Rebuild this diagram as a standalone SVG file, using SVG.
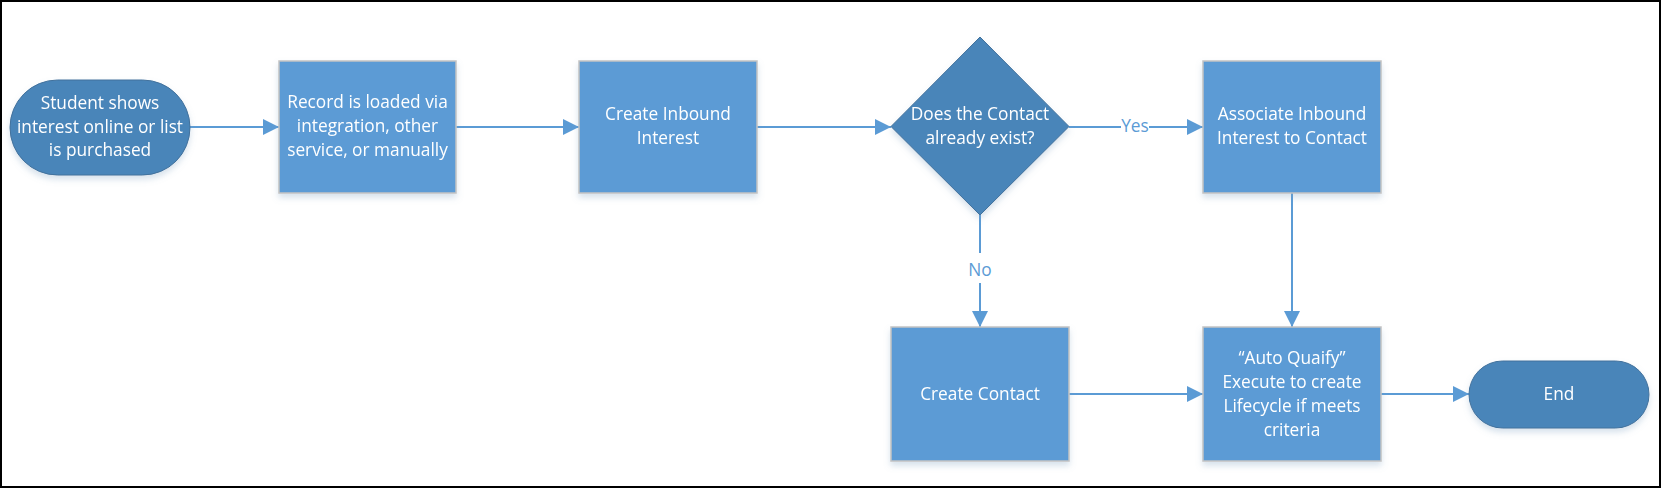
<svg xmlns="http://www.w3.org/2000/svg" width="1662" height="488" viewBox="0 0 1662 488">
  <style>
    .proc { fill: #5B9BD5; stroke: #C3C3C3; stroke-width: 1.5; }
    .term { fill: #4A85B9; stroke: #41719C; stroke-width: 1; }
    .lbl { font-family: "Open Sans", "Noto Sans", sans-serif; font-size: 17.3px; fill: #FFFFFF; text-anchor: middle; }
    .elbl { font-family: "Open Sans", "Noto Sans", sans-serif; font-size: 17.3px; fill: #5B9BD5; text-anchor: middle; }
    .conn { stroke: #5B9BD5; stroke-width: 2; fill: none; marker-end: url(#arrow); }
    .plain { stroke: #5B9BD5; stroke-width: 2; fill: none; }
  </style>
  <defs>
    <marker id="arrow" markerUnits="userSpaceOnUse" markerWidth="16" markerHeight="16" refX="16" refY="8" orient="auto">
      <path d="M0,0 L16,8 L0,16 Z" fill="#5B9BD5"/>
    </marker>
    <filter id="shadow" x="-10%" y="-10%" width="120%" height="130%">
      <feDropShadow dx="0" dy="4" stdDeviation="3" flood-color="#7A9CC0" flood-opacity="0.3"/>
    </filter>
  </defs>

  <rect x="1" y="1" width="1659" height="486" fill="#FFFFFF" stroke="#000000" stroke-width="2"/>

  <g id="connectors">
    <line class="conn" x1="190" y1="127" x2="279" y2="127"/>
    <line class="conn" x1="456" y1="127" x2="579" y2="127"/>
    <line class="conn" x1="757" y1="127" x2="891" y2="127"/>
    <line class="plain" x1="1069" y1="127" x2="1121" y2="127"/>
    <line class="conn" x1="1149" y1="127" x2="1203" y2="127"/>
    <text class="elbl" x="1135" y="132">Yes</text>
    <line class="plain" x1="980" y1="215" x2="980" y2="253"/>
    <line class="conn" x1="980" y1="283" x2="980" y2="327"/>
    <text class="elbl" x="980" y="276">No</text>
    <line class="conn" x1="1292" y1="193" x2="1292" y2="327"/>
    <line class="conn" x1="1069" y1="394" x2="1203" y2="394"/>
    <line class="conn" x1="1381" y1="394" x2="1469" y2="394"/>
  </g>

  <g id="start" filter="url(#shadow)">
    <rect class="term" x="10" y="80" width="180" height="95" rx="47.5" ry="47.5"/>
    <text class="lbl" x="100"><tspan x="100" y="109">Student shows</tspan><tspan x="100" y="133">interest online or list</tspan><tspan x="100" y="156">is purchased</tspan></text>
  </g>

  <g id="record" filter="url(#shadow)">
    <rect class="proc" x="279" y="61" width="177" height="132"/>
    <text class="lbl" x="367.5"><tspan x="367.5" y="108">Record is loaded via</tspan><tspan x="367.5" y="132">integration, other</tspan><tspan x="367.5" y="156">service, or manually</tspan></text>
  </g>

  <g id="create-inbound" filter="url(#shadow)">
    <rect class="proc" x="579" y="61" width="178" height="132"/>
    <text class="lbl" x="668"><tspan x="668" y="120">Create Inbound</tspan><tspan x="668" y="144">Interest</tspan></text>
  </g>

  <g id="decision" filter="url(#shadow)">
    <polygon class="term" points="980,37 1069,126.5 980,215 891,126.5"/>
    <text class="lbl" x="980"><tspan x="980" y="120">Does the Contact</tspan><tspan x="980" y="144">already exist?</tspan></text>
  </g>

  <g id="associate" filter="url(#shadow)">
    <rect class="proc" x="1203" y="61" width="178" height="132"/>
    <text class="lbl" x="1292"><tspan x="1292" y="120">Associate Inbound</tspan><tspan x="1292" y="144">Interest to Contact</tspan></text>
  </g>

  <g id="create-contact" filter="url(#shadow)">
    <rect class="proc" x="891" y="327" width="178" height="134"/>
    <text class="lbl" x="980" y="400">Create Contact</text>
  </g>

  <g id="auto-qualify" filter="url(#shadow)">
    <rect class="proc" x="1203" y="327" width="178" height="134"/>
    <text class="lbl" x="1292"><tspan x="1292" y="364">“Auto Quaify”</tspan><tspan x="1292" y="388">Execute to create</tspan><tspan x="1292" y="412">Lifecycle if meets</tspan><tspan x="1292" y="436">criteria</tspan></text>
  </g>

  <g id="end" filter="url(#shadow)">
    <rect class="term" x="1469" y="361" width="180" height="67" rx="33.5" ry="33.5"/>
    <text class="lbl" x="1559" y="400">End</text>
  </g>
</svg>
